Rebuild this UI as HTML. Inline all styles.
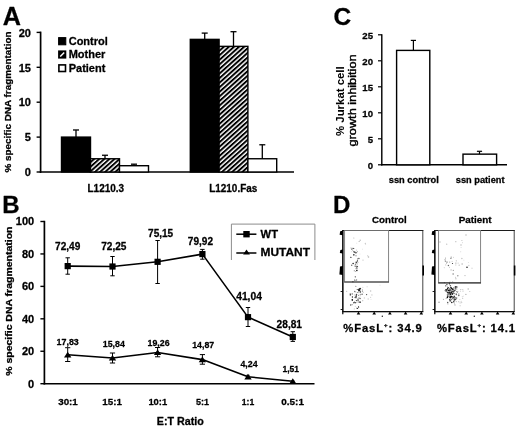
<!DOCTYPE html>
<html><head><meta charset="utf-8"><title>Figure</title>
<style>
html,body{margin:0;padding:0;background:#fff;}
svg{display:block;}
text{font-family:"Liberation Sans",Arial,Helvetica,sans-serif;font-weight:bold;fill:#000;stroke:#000;stroke-width:0.28px;stroke-linejoin:round;}
</style></head><body>
<svg width="520" height="428" viewBox="0 0 520 428">
<defs>
<pattern id="h" width="3.4" height="3.4" patternUnits="userSpaceOnUse" patternTransform="rotate(-42)">
<rect width="3.4" height="3.4" fill="#fff"/><rect width="3.4" height="1.95" fill="#000"/></pattern>
<filter id="soft" x="0" y="0" width="520" height="428" filterUnits="userSpaceOnUse"><feGaussianBlur stdDeviation="0.42"/></filter>
</defs>
<rect width="520" height="428" fill="#fff"/>
<g filter="url(#soft)">
<rect width="520" height="428" fill="#fff"/>
<text x="2.7" y="24.5" font-size="25.2">A</text>
<line x1="40.60" y1="31.60" x2="40.60" y2="172.80" stroke="#000" stroke-width="1.7"/>
<line x1="39.80" y1="172.00" x2="294.00" y2="172.00" stroke="#000" stroke-width="1.6"/>
<line x1="36.60" y1="172.00" x2="40.60" y2="172.00" stroke="#000" stroke-width="1.4"/>
<text x="30.9" y="176.2" font-size="11" text-anchor="end">0</text>
<line x1="36.60" y1="137.10" x2="40.60" y2="137.10" stroke="#000" stroke-width="1.4"/>
<text x="30.9" y="141.29999999999998" font-size="11" text-anchor="end">5</text>
<line x1="36.60" y1="102.20" x2="40.60" y2="102.20" stroke="#000" stroke-width="1.4"/>
<text x="30.9" y="106.39999999999999" font-size="11" text-anchor="end">10</text>
<line x1="36.60" y1="67.30" x2="40.60" y2="67.30" stroke="#000" stroke-width="1.4"/>
<text x="30.9" y="71.5" font-size="11" text-anchor="end">15</text>
<line x1="36.60" y1="32.40" x2="40.60" y2="32.40" stroke="#000" stroke-width="1.4"/>
<text x="30.9" y="36.59999999999998" font-size="11" text-anchor="end">20</text>
<text x="11.4" y="172.5" font-size="8.6" transform="rotate(-90 11.4 172.5)" textLength="141.0" lengthAdjust="spacingAndGlyphs">% specific DNA fragmentation</text>
<rect x="58.70" y="37.70" width="7.00" height="7.00" fill="#000" stroke="#000" stroke-width="1.2"/>
<rect x="58.90" y="51.20" width="6.60" height="6.60" fill="#000" stroke="#000" stroke-width="1.6"/>
<line x1="60.20" y1="56.50" x2="64.20" y2="52.50" stroke="#fff" stroke-width="1.5"/>
<rect x="58.90" y="64.90" width="6.60" height="6.60" fill="#fff" stroke="#000" stroke-width="1.6"/>
<text x="68.7" y="44.8" font-size="11">Control</text>
<text x="68.7" y="58.0" font-size="11">Mother</text>
<text x="68.7" y="71.6" font-size="11">Patient</text>
<line x1="76.00" y1="129.98" x2="76.00" y2="137.10" stroke="#000" stroke-width="1.3"/>
<line x1="73.00" y1="129.98" x2="79.00" y2="129.98" stroke="#000" stroke-width="1.3"/>
<rect x="61.50" y="137.10" width="29.00" height="34.90" fill="#000" stroke="#000" stroke-width="1.4"/>
<line x1="105.00" y1="155.25" x2="105.00" y2="158.74" stroke="#000" stroke-width="1.3"/>
<line x1="102.00" y1="155.25" x2="108.00" y2="155.25" stroke="#000" stroke-width="1.3"/>
<rect x="90.50" y="158.74" width="29.00" height="13.26" fill="url(#h)" stroke="#000" stroke-width="1.4"/>
<line x1="134.00" y1="164.18" x2="134.00" y2="165.72" stroke="#000" stroke-width="1.3"/>
<line x1="131.00" y1="164.18" x2="137.00" y2="164.18" stroke="#000" stroke-width="1.3"/>
<rect x="119.50" y="165.72" width="29.00" height="6.28" fill="#fff" stroke="#000" stroke-width="1.4"/>
<line x1="204.70" y1="33.10" x2="204.70" y2="39.38" stroke="#000" stroke-width="1.3"/>
<line x1="201.70" y1="33.10" x2="207.70" y2="33.10" stroke="#000" stroke-width="1.3"/>
<rect x="190.30" y="39.38" width="28.80" height="132.62" fill="#000" stroke="#000" stroke-width="1.4"/>
<line x1="233.50" y1="31.70" x2="233.50" y2="46.36" stroke="#000" stroke-width="1.3"/>
<line x1="230.50" y1="31.70" x2="236.50" y2="31.70" stroke="#000" stroke-width="1.3"/>
<rect x="219.10" y="46.36" width="28.80" height="125.64" fill="url(#h)" stroke="#000" stroke-width="1.4"/>
<line x1="262.30" y1="144.78" x2="262.30" y2="158.74" stroke="#000" stroke-width="1.3"/>
<line x1="259.30" y1="144.78" x2="265.30" y2="144.78" stroke="#000" stroke-width="1.3"/>
<rect x="247.90" y="158.74" width="28.80" height="13.26" fill="#fff" stroke="#000" stroke-width="1.4"/>
<text x="87.5" y="192.3" font-size="10.5" textLength="36.6" lengthAdjust="spacingAndGlyphs">L1210.3</text>
<text x="209.2" y="192.3" font-size="10.5" textLength="48.1" lengthAdjust="spacingAndGlyphs">L1210.Fas</text>
<text x="2.2" y="212.5" font-size="24">B</text>
<line x1="44.40" y1="220.80" x2="44.40" y2="384.50" stroke="#000" stroke-width="1.7"/>
<line x1="43.60" y1="383.70" x2="314.50" y2="383.70" stroke="#000" stroke-width="1.6"/>
<line x1="40.40" y1="383.70" x2="44.40" y2="383.70" stroke="#000" stroke-width="1.4"/>
<text x="34.2" y="387.59999999999997" font-size="11" text-anchor="end">0</text>
<line x1="40.40" y1="351.26" x2="44.40" y2="351.26" stroke="#000" stroke-width="1.4"/>
<text x="34.2" y="355.15999999999997" font-size="11" text-anchor="end">20</text>
<line x1="40.40" y1="318.82" x2="44.40" y2="318.82" stroke="#000" stroke-width="1.4"/>
<text x="34.2" y="322.71999999999997" font-size="11" text-anchor="end">40</text>
<line x1="40.40" y1="286.38" x2="44.40" y2="286.38" stroke="#000" stroke-width="1.4"/>
<text x="34.2" y="290.28" font-size="11" text-anchor="end">60</text>
<line x1="40.40" y1="253.94" x2="44.40" y2="253.94" stroke="#000" stroke-width="1.4"/>
<text x="34.2" y="257.84" font-size="11" text-anchor="end">80</text>
<line x1="40.40" y1="221.50" x2="44.40" y2="221.50" stroke="#000" stroke-width="1.4"/>
<text x="34.2" y="225.39999999999998" font-size="11" text-anchor="end">100</text>
<text x="12.3" y="375.8" font-size="9" transform="rotate(-90 12.3 375.8)" textLength="149.3" lengthAdjust="spacingAndGlyphs">% specific DNA fragmentation</text>
<line x1="67.70" y1="257.80" x2="67.70" y2="274.20" stroke="#000" stroke-width="1.0"/>
<line x1="65.50" y1="257.80" x2="69.90" y2="257.80" stroke="#000" stroke-width="1.0"/>
<line x1="65.50" y1="274.20" x2="69.90" y2="274.20" stroke="#000" stroke-width="1.0"/>
<line x1="112.50" y1="256.50" x2="112.50" y2="275.80" stroke="#000" stroke-width="1.0"/>
<line x1="110.30" y1="256.50" x2="114.70" y2="256.50" stroke="#000" stroke-width="1.0"/>
<line x1="110.30" y1="275.80" x2="114.70" y2="275.80" stroke="#000" stroke-width="1.0"/>
<line x1="157.60" y1="240.50" x2="157.60" y2="283.50" stroke="#000" stroke-width="1.0"/>
<line x1="155.40" y1="240.50" x2="159.80" y2="240.50" stroke="#000" stroke-width="1.0"/>
<line x1="155.40" y1="283.50" x2="159.80" y2="283.50" stroke="#000" stroke-width="1.0"/>
<line x1="202.40" y1="249.40" x2="202.40" y2="259.20" stroke="#000" stroke-width="1.0"/>
<line x1="200.20" y1="249.40" x2="204.60" y2="249.40" stroke="#000" stroke-width="1.0"/>
<line x1="200.20" y1="259.20" x2="204.60" y2="259.20" stroke="#000" stroke-width="1.0"/>
<line x1="248.00" y1="307.50" x2="248.00" y2="326.50" stroke="#000" stroke-width="1.0"/>
<line x1="245.80" y1="307.50" x2="250.20" y2="307.50" stroke="#000" stroke-width="1.0"/>
<line x1="245.80" y1="326.50" x2="250.20" y2="326.50" stroke="#000" stroke-width="1.0"/>
<line x1="292.80" y1="331.70" x2="292.80" y2="341.40" stroke="#000" stroke-width="1.0"/>
<line x1="290.60" y1="331.70" x2="295.00" y2="331.70" stroke="#000" stroke-width="1.0"/>
<line x1="290.60" y1="341.40" x2="295.00" y2="341.40" stroke="#000" stroke-width="1.0"/>
<line x1="67.70" y1="347.70" x2="67.70" y2="361.50" stroke="#000" stroke-width="1.0"/>
<line x1="65.10" y1="347.70" x2="70.30" y2="347.70" stroke="#000" stroke-width="1.0"/>
<line x1="65.10" y1="361.50" x2="70.30" y2="361.50" stroke="#000" stroke-width="1.0"/>
<line x1="112.50" y1="353.00" x2="112.50" y2="363.00" stroke="#000" stroke-width="1.0"/>
<line x1="109.90" y1="353.00" x2="115.10" y2="353.00" stroke="#000" stroke-width="1.0"/>
<line x1="109.90" y1="363.00" x2="115.10" y2="363.00" stroke="#000" stroke-width="1.0"/>
<line x1="157.60" y1="347.50" x2="157.60" y2="356.80" stroke="#000" stroke-width="1.0"/>
<line x1="155.00" y1="347.50" x2="160.20" y2="347.50" stroke="#000" stroke-width="1.0"/>
<line x1="155.00" y1="356.80" x2="160.20" y2="356.80" stroke="#000" stroke-width="1.0"/>
<line x1="202.40" y1="354.60" x2="202.40" y2="364.20" stroke="#000" stroke-width="1.0"/>
<line x1="199.80" y1="354.60" x2="205.00" y2="354.60" stroke="#000" stroke-width="1.0"/>
<line x1="199.80" y1="364.20" x2="205.00" y2="364.20" stroke="#000" stroke-width="1.0"/>
<line x1="248.00" y1="375.30" x2="248.00" y2="378.40" stroke="#000" stroke-width="1.0"/>
<line x1="246.40" y1="375.30" x2="249.60" y2="375.30" stroke="#000" stroke-width="1.0"/>
<line x1="246.40" y1="378.40" x2="249.60" y2="378.40" stroke="#000" stroke-width="1.0"/>
<line x1="292.80" y1="381.00" x2="292.80" y2="382.40" stroke="#000" stroke-width="1.0"/>
<line x1="291.20" y1="381.00" x2="294.40" y2="381.00" stroke="#000" stroke-width="1.0"/>
<line x1="291.20" y1="382.40" x2="294.40" y2="382.40" stroke="#000" stroke-width="1.0"/>
<polyline fill="none" stroke="#000" stroke-width="1.6" stroke-linejoin="round" points="67.7,266.1 112.5,266.5 157.6,261.8 202.4,254.1 248,317.1 292.8,337.0"/>
<polyline fill="none" stroke="#000" stroke-width="1.6" stroke-linejoin="round" points="67.7,354.8 112.5,358.0 157.6,352.5 202.4,359.6 248,376.8 292.8,381.3"/>
<rect x="64.60" y="263.02" width="6.20" height="6.20" fill="#000" stroke="none" stroke-width="0"/>
<rect x="109.40" y="263.41" width="6.20" height="6.20" fill="#000" stroke="none" stroke-width="0"/>
<rect x="154.50" y="258.71" width="6.20" height="6.20" fill="#000" stroke="none" stroke-width="0"/>
<rect x="199.30" y="250.97" width="6.20" height="6.20" fill="#000" stroke="none" stroke-width="0"/>
<rect x="244.90" y="314.03" width="6.20" height="6.20" fill="#000" stroke="none" stroke-width="0"/>
<rect x="289.70" y="333.87" width="6.20" height="6.20" fill="#000" stroke="none" stroke-width="0"/>
<polygon points="67.7,351.8 71.4,357.4 64.0,357.4" fill="#000"/>
<polygon points="112.5,355.0 116.2,360.6 108.8,360.6" fill="#000"/>
<polygon points="157.6,349.5 161.29999999999998,355.1 153.9,355.1" fill="#000"/>
<polygon points="202.4,356.6 206.1,362.2 198.70000000000002,362.2" fill="#000"/>
<polygon points="248,373.8 251.7,379.4 244.3,379.4" fill="#000"/>
<polygon points="292.8,378.3 296.5,383.9 289.1,383.9" fill="#000"/>
<text x="55.1" y="249.9" font-size="10.8" textLength="25.2" lengthAdjust="spacingAndGlyphs">72,49</text>
<text x="101.2" y="249.9" font-size="10.8" textLength="25.3" lengthAdjust="spacingAndGlyphs">72,25</text>
<text x="148.1" y="236.6" font-size="10.8" textLength="25.1" lengthAdjust="spacingAndGlyphs">75,15</text>
<text x="187.8" y="244.8" font-size="10.8" textLength="25.2" lengthAdjust="spacingAndGlyphs">79,92</text>
<text x="236.2" y="300.2" font-size="10.8" textLength="25.7" lengthAdjust="spacingAndGlyphs">41,04</text>
<text x="276.6" y="328.3" font-size="10.8" textLength="25.4" lengthAdjust="spacingAndGlyphs">28,81</text>
<text x="56.5" y="344.9" font-size="9.5" textLength="22.3" lengthAdjust="spacingAndGlyphs">17,83</text>
<text x="102.8" y="346.6" font-size="9.5" textLength="22.1" lengthAdjust="spacingAndGlyphs">15,84</text>
<text x="147.6" y="346.2" font-size="9.5" textLength="22.0" lengthAdjust="spacingAndGlyphs">19,26</text>
<text x="192.2" y="348" font-size="9.5" textLength="22.0" lengthAdjust="spacingAndGlyphs">14,87</text>
<text x="240.5" y="367.3" font-size="9.5" textLength="17.0" lengthAdjust="spacingAndGlyphs">4,24</text>
<text x="282.5" y="371.9" font-size="9.5" textLength="16.5" lengthAdjust="spacingAndGlyphs">1,51</text>
<text x="58.2" y="404.8" font-size="9.9" textLength="19.6" lengthAdjust="spacingAndGlyphs">30:1</text>
<text x="102.3" y="404.8" font-size="9.9" textLength="19.6" lengthAdjust="spacingAndGlyphs">15:1</text>
<text x="148.4" y="404.8" font-size="9.9" textLength="18.8" lengthAdjust="spacingAndGlyphs">10:1</text>
<text x="195.9" y="404.8" font-size="9.9" textLength="13.0" lengthAdjust="spacingAndGlyphs">5:1</text>
<text x="241.8" y="404.8" font-size="9.9" textLength="12.4" lengthAdjust="spacingAndGlyphs">1:1</text>
<text x="281.3" y="404.8" font-size="9.9" textLength="22.6" lengthAdjust="spacingAndGlyphs">0.5:1</text>
<text x="156.8" y="425" font-size="10.3" textLength="47.0" lengthAdjust="spacingAndGlyphs">E:T Ratio</text>
<path d="M231.4 260 V224.1 H314.9 V260" fill="none" stroke="#8c8c8c" stroke-width="1"/>
<line x1="236.30" y1="234.20" x2="256.40" y2="234.20" stroke="#000" stroke-width="1.5"/>
<rect x="243.30" y="231.00" width="6.40" height="6.40" fill="#000" stroke="none" stroke-width="0"/>
<line x1="236.30" y1="253.00" x2="256.40" y2="253.00" stroke="#000" stroke-width="1.5"/>
<polygon points="246.5,249.6 249.9,254.5 243.1,254.5" fill="#000"/>
<text x="260.6" y="238.2" font-size="11.2" textLength="17.4" lengthAdjust="spacingAndGlyphs">WT</text>
<text x="260.6" y="256.1" font-size="11.2" textLength="49.4" lengthAdjust="spacingAndGlyphs">MUTANT</text>
<text x="333.4" y="24.8" font-size="24.5">C</text>
<line x1="381.80" y1="34.20" x2="381.80" y2="165.50" stroke="#000" stroke-width="1.4"/>
<line x1="381.10" y1="164.80" x2="507.00" y2="164.80" stroke="#000" stroke-width="1.4"/>
<line x1="378.00" y1="164.80" x2="381.80" y2="164.80" stroke="#000" stroke-width="1.2"/>
<text x="373" y="168.60000000000002" font-size="9.6" text-anchor="end">0</text>
<line x1="378.00" y1="138.80" x2="381.80" y2="138.80" stroke="#000" stroke-width="1.2"/>
<text x="373" y="142.60000000000002" font-size="9.6" text-anchor="end">5</text>
<line x1="378.00" y1="112.80" x2="381.80" y2="112.80" stroke="#000" stroke-width="1.2"/>
<text x="373" y="116.60000000000001" font-size="9.6" text-anchor="end">10</text>
<line x1="378.00" y1="86.80" x2="381.80" y2="86.80" stroke="#000" stroke-width="1.2"/>
<text x="373" y="90.60000000000001" font-size="9.6" text-anchor="end">15</text>
<line x1="378.00" y1="60.80" x2="381.80" y2="60.80" stroke="#000" stroke-width="1.2"/>
<text x="373" y="64.60000000000001" font-size="9.6" text-anchor="end">20</text>
<line x1="378.00" y1="34.80" x2="381.80" y2="34.80" stroke="#000" stroke-width="1.2"/>
<text x="373" y="38.60000000000001" font-size="9.6" text-anchor="end">25</text>
<line x1="413.40" y1="40.40" x2="413.40" y2="50.40" stroke="#000" stroke-width="1.2"/>
<line x1="410.80" y1="40.40" x2="416.00" y2="40.40" stroke="#000" stroke-width="1.2"/>
<rect x="396.60" y="50.40" width="33.20" height="114.40" fill="#fff" stroke="#000" stroke-width="1.4"/>
<line x1="479.50" y1="151.30" x2="479.50" y2="154.14" stroke="#000" stroke-width="1.2"/>
<line x1="476.90" y1="151.30" x2="482.10" y2="151.30" stroke="#000" stroke-width="1.2"/>
<rect x="463.00" y="154.14" width="33.60" height="10.66" fill="#fff" stroke="#000" stroke-width="1.4"/>
<text x="388.8" y="183" font-size="9" textLength="50.0" lengthAdjust="spacingAndGlyphs">ssn control</text>
<text x="455.8" y="183" font-size="9" textLength="48.7" lengthAdjust="spacingAndGlyphs">ssn patient</text>
<text x="344" y="136" font-size="11" transform="rotate(-90 344 136)" textLength="69.7" lengthAdjust="spacingAndGlyphs" style="stroke-width:0.05px">% Jurkat cell</text>
<text x="355.9" y="146.5" font-size="11" transform="rotate(-90 355.9 146.5)" textLength="92.1" lengthAdjust="spacingAndGlyphs" style="font-weight:normal;stroke-width:0.4px">growth inhibition</text>
<text x="333" y="212.9" font-size="24">D</text>
<text x="372" y="223" font-size="9.7" textLength="34.6" lengthAdjust="spacingAndGlyphs">Control</text>
<text x="458.7" y="222.9" font-size="9.7" textLength="32.9" lengthAdjust="spacingAndGlyphs">Patient</text>
<rect x="342.80" y="230.50" width="80.00" height="81.10" fill="#fff" stroke="#444" stroke-width="1.0"/>
<line x1="342.80" y1="230.00" x2="342.80" y2="312.10" stroke="#111" stroke-width="1.4"/>
<line x1="342.30" y1="311.60" x2="423.30" y2="311.60" stroke="#111" stroke-width="1.3"/>
<line x1="342.30" y1="230.50" x2="423.30" y2="230.50" stroke="#1a1a1a" stroke-width="1.2"/>
<rect x="344.60" y="230.50" width="44.00" height="51.50" fill="none" stroke="#777" stroke-width="0.9"/>
<line x1="344.20" y1="282.00" x2="389.00" y2="282.00" stroke="#3a3a3a" stroke-width="1.2"/>
<circle cx="353.1" cy="263.4" r="0.75" fill="#000" opacity="0.91"/>
<circle cx="351.7" cy="265.3" r="0.75" fill="#000" opacity="0.57"/>
<circle cx="353.1" cy="248.4" r="0.65" fill="#000" opacity="0.52"/>
<circle cx="357.1" cy="268.7" r="0.45" fill="#000" opacity="0.90"/>
<circle cx="353.8" cy="254.9" r="0.55" fill="#000" opacity="0.69"/>
<circle cx="352.8" cy="248.1" r="0.45" fill="#000" opacity="0.51"/>
<circle cx="356.0" cy="266.2" r="0.75" fill="#000" opacity="0.49"/>
<circle cx="354.3" cy="270.7" r="0.55" fill="#000" opacity="0.57"/>
<circle cx="354.0" cy="251.8" r="0.75" fill="#000" opacity="0.79"/>
<circle cx="354.3" cy="252.4" r="0.45" fill="#000" opacity="0.74"/>
<circle cx="355.0" cy="252.4" r="0.65" fill="#000" opacity="0.58"/>
<circle cx="358.0" cy="262.2" r="0.45" fill="#000" opacity="0.53"/>
<circle cx="356.6" cy="252.7" r="0.45" fill="#000" opacity="0.93"/>
<circle cx="356.5" cy="280.1" r="0.75" fill="#000" opacity="0.50"/>
<circle cx="357.5" cy="258.9" r="0.55" fill="#000" opacity="0.51"/>
<circle cx="355.8" cy="253.0" r="0.65" fill="#000" opacity="0.52"/>
<circle cx="357.5" cy="260.9" r="0.55" fill="#000" opacity="0.91"/>
<circle cx="355.5" cy="264.2" r="0.75" fill="#000" opacity="0.50"/>
<circle cx="356.6" cy="270.4" r="0.55" fill="#000" opacity="0.69"/>
<circle cx="358.9" cy="258.6" r="0.75" fill="#000" opacity="0.67"/>
<circle cx="357.1" cy="266.3" r="0.65" fill="#000" opacity="0.58"/>
<circle cx="359.1" cy="241.6" r="0.45" fill="#000" opacity="0.76"/>
<circle cx="356.0" cy="268.7" r="0.45" fill="#000" opacity="0.88"/>
<circle cx="356.6" cy="261.3" r="0.45" fill="#000" opacity="0.68"/>
<circle cx="355.8" cy="252.0" r="0.45" fill="#000" opacity="0.62"/>
<circle cx="356.7" cy="262.8" r="0.45" fill="#000" opacity="0.78"/>
<circle cx="353.9" cy="254.8" r="0.75" fill="#000" opacity="0.69"/>
<circle cx="356.0" cy="255.8" r="0.55" fill="#000" opacity="0.66"/>
<circle cx="355.0" cy="266.0" r="0.55" fill="#000" opacity="0.76"/>
<circle cx="357.0" cy="270.6" r="0.75" fill="#000" opacity="0.74"/>
<circle cx="357.5" cy="251.7" r="0.45" fill="#000" opacity="0.68"/>
<circle cx="357.4" cy="266.8" r="0.75" fill="#000" opacity="0.60"/>
<circle cx="355.3" cy="276.8" r="0.65" fill="#000" opacity="0.76"/>
<circle cx="350.9" cy="257.4" r="0.55" fill="#000" opacity="0.94"/>
<circle cx="355.8" cy="271.4" r="0.45" fill="#000" opacity="0.88"/>
<circle cx="354.7" cy="279.7" r="0.45" fill="#000" opacity="0.57"/>
<circle cx="357.4" cy="263.9" r="0.45" fill="#000" opacity="0.59"/>
<circle cx="356.4" cy="267.7" r="0.55" fill="#000" opacity="0.75"/>
<circle cx="356.4" cy="262.7" r="0.65" fill="#000" opacity="0.69"/>
<circle cx="353.8" cy="248.5" r="0.55" fill="#000" opacity="0.75"/>
<circle cx="351.7" cy="249.1" r="0.65" fill="#000" opacity="0.70"/>
<circle cx="353.9" cy="238.0" r="0.45" fill="#000" opacity="0.49"/>
<circle cx="351.3" cy="251.8" r="0.45" fill="#000" opacity="0.20"/>
<circle cx="367.7" cy="255.7" r="0.55" fill="#000" opacity="0.26"/>
<circle cx="355.6" cy="262.2" r="0.75" fill="#000" opacity="0.29"/>
<circle cx="362.4" cy="249.1" r="0.45" fill="#000" opacity="0.22"/>
<circle cx="356.8" cy="243.1" r="0.45" fill="#000" opacity="0.24"/>
<circle cx="368.5" cy="256.9" r="0.75" fill="#000" opacity="0.30"/>
<circle cx="360.2" cy="240.2" r="0.75" fill="#000" opacity="0.26"/>
<circle cx="350.3" cy="257.0" r="0.45" fill="#000" opacity="0.16"/>
<circle cx="360.0" cy="254.0" r="0.45" fill="#000" opacity="0.15"/>
<circle cx="352.7" cy="250.2" r="0.65" fill="#000" opacity="0.29"/>
<circle cx="365.6" cy="244.2" r="0.55" fill="#000" opacity="0.17"/>
<circle cx="351.0" cy="248.1" r="0.75" fill="#000" opacity="0.20"/>
<circle cx="356.5" cy="250.1" r="0.65" fill="#000" opacity="0.21"/>
<circle cx="363.0" cy="260.1" r="0.55" fill="#000" opacity="0.27"/>
<circle cx="365.3" cy="243.3" r="0.65" fill="#000" opacity="0.24"/>
<circle cx="357.5" cy="300.6" r="0.45" fill="#000" opacity="0.64"/>
<circle cx="354.9" cy="280.4" r="0.55" fill="#000" opacity="0.61"/>
<circle cx="360.0" cy="302.1" r="0.75" fill="#000" opacity="0.91"/>
<circle cx="353.9" cy="302.7" r="0.75" fill="#000" opacity="0.79"/>
<circle cx="354.2" cy="308.9" r="0.45" fill="#000" opacity="0.61"/>
<circle cx="355.8" cy="291.9" r="0.45" fill="#000" opacity="0.64"/>
<circle cx="354.7" cy="291.5" r="0.65" fill="#000" opacity="0.57"/>
<circle cx="357.2" cy="300.8" r="0.45" fill="#000" opacity="0.50"/>
<circle cx="352.3" cy="300.3" r="0.65" fill="#000" opacity="0.79"/>
<circle cx="362.1" cy="294.3" r="0.75" fill="#000" opacity="0.57"/>
<circle cx="356.8" cy="308.1" r="0.45" fill="#000" opacity="0.83"/>
<circle cx="358.2" cy="302.0" r="0.55" fill="#000" opacity="0.64"/>
<circle cx="352.1" cy="304.7" r="0.45" fill="#000" opacity="0.91"/>
<circle cx="350.7" cy="304.9" r="0.75" fill="#000" opacity="0.66"/>
<circle cx="352.3" cy="299.8" r="0.75" fill="#000" opacity="0.91"/>
<circle cx="352.2" cy="293.9" r="0.65" fill="#000" opacity="0.71"/>
<circle cx="352.1" cy="299.3" r="0.45" fill="#000" opacity="0.57"/>
<circle cx="366.6" cy="294.6" r="0.65" fill="#000" opacity="0.73"/>
<circle cx="356.6" cy="308.1" r="0.45" fill="#000" opacity="0.48"/>
<circle cx="360.1" cy="298.5" r="0.65" fill="#000" opacity="0.68"/>
<circle cx="356.2" cy="297.1" r="0.45" fill="#000" opacity="0.86"/>
<circle cx="356.2" cy="297.8" r="0.55" fill="#000" opacity="0.73"/>
<circle cx="360.4" cy="292.1" r="0.75" fill="#000" opacity="0.80"/>
<circle cx="360.8" cy="294.3" r="0.45" fill="#000" opacity="0.93"/>
<circle cx="357.2" cy="289.5" r="0.55" fill="#000" opacity="0.74"/>
<circle cx="350.3" cy="295.1" r="0.65" fill="#000" opacity="0.74"/>
<circle cx="352.9" cy="281.7" r="0.55" fill="#000" opacity="0.89"/>
<circle cx="356.4" cy="300.6" r="0.65" fill="#000" opacity="0.73"/>
<circle cx="354.9" cy="294.9" r="0.45" fill="#000" opacity="0.73"/>
<circle cx="356.3" cy="296.0" r="0.75" fill="#000" opacity="0.94"/>
<circle cx="346.8" cy="291.2" r="0.45" fill="#000" opacity="0.53"/>
<circle cx="356.5" cy="294.6" r="0.75" fill="#000" opacity="0.73"/>
<circle cx="362.5" cy="291.0" r="0.55" fill="#000" opacity="0.67"/>
<circle cx="355.2" cy="297.6" r="0.75" fill="#000" opacity="0.68"/>
<circle cx="355.3" cy="296.5" r="0.45" fill="#000" opacity="0.67"/>
<circle cx="358.6" cy="295.3" r="0.45" fill="#000" opacity="0.85"/>
<circle cx="359.0" cy="297.9" r="0.65" fill="#000" opacity="0.48"/>
<circle cx="355.6" cy="302.9" r="0.45" fill="#000" opacity="0.77"/>
<circle cx="352.4" cy="297.0" r="0.65" fill="#000" opacity="0.88"/>
<circle cx="355.9" cy="286.3" r="0.45" fill="#000" opacity="0.89"/>
<circle cx="354.4" cy="302.1" r="0.55" fill="#000" opacity="0.73"/>
<circle cx="350.2" cy="293.7" r="0.55" fill="#000" opacity="0.73"/>
<circle cx="350.3" cy="294.5" r="0.55" fill="#000" opacity="0.77"/>
<circle cx="357.6" cy="308.4" r="0.55" fill="#000" opacity="0.86"/>
<circle cx="355.8" cy="302.6" r="0.55" fill="#000" opacity="0.91"/>
<circle cx="357.4" cy="292.5" r="0.55" fill="#000" opacity="0.52"/>
<circle cx="358.0" cy="299.2" r="0.75" fill="#000" opacity="0.66"/>
<circle cx="358.8" cy="290.6" r="0.55" fill="#000" opacity="0.85"/>
<circle cx="358.5" cy="306.4" r="0.45" fill="#000" opacity="0.85"/>
<circle cx="358.6" cy="307.1" r="0.65" fill="#000" opacity="0.91"/>
<circle cx="360.1" cy="302.5" r="0.55" fill="#000" opacity="0.84"/>
<circle cx="358.3" cy="289.4" r="0.75" fill="#000" opacity="0.49"/>
<circle cx="358.4" cy="300.6" r="0.55" fill="#000" opacity="0.57"/>
<circle cx="362.3" cy="289.4" r="0.45" fill="#000" opacity="0.55"/>
<circle cx="360.8" cy="291.0" r="0.45" fill="#000" opacity="0.54"/>
<circle cx="359.0" cy="290.8" r="0.75" fill="#000" opacity="0.76"/>
<circle cx="359.9" cy="290.7" r="0.45" fill="#000" opacity="0.82"/>
<circle cx="360.0" cy="289.0" r="0.65" fill="#000" opacity="0.73"/>
<circle cx="358.9" cy="290.0" r="0.45" fill="#000" opacity="0.58"/>
<circle cx="359.4" cy="290.1" r="0.75" fill="#000" opacity="0.92"/>
<circle cx="358.9" cy="289.3" r="0.65" fill="#000" opacity="0.79"/>
<circle cx="359.9" cy="288.7" r="0.55" fill="#000" opacity="0.96"/>
<circle cx="360.1" cy="288.5" r="0.65" fill="#000" opacity="0.95"/>
<circle cx="367.1" cy="286.8" r="0.55" fill="#000" opacity="0.21"/>
<circle cx="371.0" cy="299.4" r="0.45" fill="#000" opacity="0.22"/>
<circle cx="380.0" cy="285.1" r="0.45" fill="#000" opacity="0.29"/>
<circle cx="363.3" cy="292.3" r="0.55" fill="#000" opacity="0.25"/>
<circle cx="360.2" cy="295.8" r="0.55" fill="#000" opacity="0.30"/>
<circle cx="362.9" cy="287.3" r="0.45" fill="#000" opacity="0.30"/>
<circle cx="368.2" cy="298.9" r="0.75" fill="#000" opacity="0.19"/>
<circle cx="364.4" cy="298.1" r="0.75" fill="#000" opacity="0.18"/>
<circle cx="370.6" cy="297.3" r="0.65" fill="#000" opacity="0.19"/>
<circle cx="359.2" cy="294.8" r="0.45" fill="#000" opacity="0.30"/>
<circle cx="358.9" cy="288.7" r="0.45" fill="#000" opacity="0.16"/>
<circle cx="355.3" cy="306.3" r="0.55" fill="#000" opacity="0.21"/>
<circle cx="370.6" cy="291.1" r="0.75" fill="#000" opacity="0.24"/>
<circle cx="371.9" cy="294.9" r="0.65" fill="#000" opacity="0.23"/>
<circle cx="362.7" cy="300.7" r="0.65" fill="#000" opacity="0.25"/>
<circle cx="360.9" cy="288.5" r="0.55" fill="#000" opacity="0.15"/>
<circle cx="358.7" cy="292.6" r="0.75" fill="#000" opacity="0.21"/>
<polygon points="342.8,230.8 342.8,235.2 339.6,234.7 340.2,231.2" fill="#000"/>
<polygon points="342.8,249.5 342.8,253.5 339.8,252.9 340.4,249.9" fill="#000"/>
<polygon points="342.8,266.0 342.8,275.0 339.4,274.4 340.0,266.4" fill="#000"/>
<line x1="340.60" y1="291.50" x2="342.80" y2="291.50" stroke="#000" stroke-width="0.9"/>
<line x1="340.60" y1="309.50" x2="342.80" y2="309.50" stroke="#000" stroke-width="0.9"/>
<line x1="342.80" y1="311.60" x2="342.80" y2="314.20" stroke="#000" stroke-width="1.2"/>
<polygon points="358.5,311.6 360.3,314.4 356.7,314.4" fill="#000"/>
<polygon points="374.2,311.6 376.0,314.4 372.4,314.4" fill="#000"/>
<polygon points="389.9,311.6 391.7,314.4 388.1,314.4" fill="#000"/>
<polygon points="405.6,311.6 407.4,314.4 403.8,314.4" fill="#000"/>
<polygon points="421.3,311.6 423.1,314.4 419.5,314.4" fill="#000"/>
<circle cx="382.3" cy="316.2" r="0.7" fill="#000" opacity="0.90"/>
<rect x="422.40" y="265.50" width="1.60" height="10.00" fill="#000" stroke="none" stroke-width="0"/>
<rect x="434.80" y="230.50" width="79.40" height="81.10" fill="#fff" stroke="#444" stroke-width="1.0"/>
<line x1="434.80" y1="230.00" x2="434.80" y2="312.10" stroke="#111" stroke-width="1.4"/>
<line x1="434.30" y1="311.60" x2="514.70" y2="311.60" stroke="#111" stroke-width="1.3"/>
<line x1="434.30" y1="230.50" x2="514.70" y2="230.50" stroke="#1a1a1a" stroke-width="1.2"/>
<rect x="438.60" y="230.50" width="42.00" height="52.40" fill="none" stroke="#777" stroke-width="0.9"/>
<line x1="438.20" y1="282.90" x2="481.00" y2="282.90" stroke="#3a3a3a" stroke-width="1.2"/>
<circle cx="453.3" cy="270.3" r="0.65" fill="#000" opacity="0.42"/>
<circle cx="457.8" cy="275.7" r="0.75" fill="#000" opacity="0.43"/>
<circle cx="450.0" cy="281.4" r="0.45" fill="#000" opacity="0.31"/>
<circle cx="455.9" cy="263.1" r="0.55" fill="#000" opacity="0.44"/>
<circle cx="448.4" cy="265.6" r="0.75" fill="#000" opacity="0.49"/>
<circle cx="455.9" cy="278.7" r="0.55" fill="#000" opacity="0.41"/>
<circle cx="453.1" cy="274.1" r="0.75" fill="#000" opacity="0.50"/>
<circle cx="445.4" cy="261.2" r="0.65" fill="#000" opacity="0.50"/>
<circle cx="450.9" cy="258.3" r="0.65" fill="#000" opacity="0.60"/>
<circle cx="449.7" cy="262.1" r="0.65" fill="#000" opacity="0.33"/>
<circle cx="451.2" cy="257.1" r="0.65" fill="#000" opacity="0.41"/>
<circle cx="445.0" cy="259.8" r="0.55" fill="#000" opacity="0.51"/>
<circle cx="445.5" cy="258.1" r="0.55" fill="#000" opacity="0.36"/>
<circle cx="444.2" cy="267.8" r="0.45" fill="#000" opacity="0.36"/>
<circle cx="449.6" cy="267.2" r="0.45" fill="#000" opacity="0.38"/>
<circle cx="448.7" cy="265.4" r="0.45" fill="#000" opacity="0.46"/>
<circle cx="462.1" cy="264.1" r="0.75" fill="#000" opacity="0.30"/>
<circle cx="453.5" cy="257.2" r="0.55" fill="#000" opacity="0.20"/>
<circle cx="460.7" cy="251.7" r="0.55" fill="#000" opacity="0.17"/>
<circle cx="446.5" cy="263.4" r="0.55" fill="#000" opacity="0.21"/>
<circle cx="451.1" cy="269.9" r="0.65" fill="#000" opacity="0.30"/>
<circle cx="455.6" cy="277.2" r="0.55" fill="#000" opacity="0.27"/>
<circle cx="452.1" cy="261.5" r="0.65" fill="#000" opacity="0.16"/>
<circle cx="461.9" cy="258.6" r="0.75" fill="#000" opacity="0.23"/>
<circle cx="462.6" cy="242.7" r="0.45" fill="#000" opacity="0.27"/>
<circle cx="463.9" cy="260.1" r="0.45" fill="#000" opacity="0.25"/>
<circle cx="455.8" cy="241.7" r="0.65" fill="#000" opacity="0.26"/>
<circle cx="458.1" cy="263.1" r="0.65" fill="#000" opacity="0.20"/>
<circle cx="456.3" cy="260.8" r="0.65" fill="#000" opacity="0.26"/>
<circle cx="445.7" cy="264.9" r="0.65" fill="#000" opacity="0.20"/>
<circle cx="462.8" cy="289.5" r="0.55" fill="#000" opacity="0.26"/>
<circle cx="472.0" cy="268.3" r="0.75" fill="#000" opacity="0.15"/>
<circle cx="446.7" cy="244.2" r="0.65" fill="#000" opacity="0.26"/>
<circle cx="461.9" cy="240.5" r="0.55" fill="#000" opacity="0.28"/>
<circle cx="465.0" cy="275.6" r="0.65" fill="#000" opacity="0.28"/>
<circle cx="461.1" cy="247.5" r="0.55" fill="#000" opacity="0.16"/>
<circle cx="440.0" cy="242.1" r="0.75" fill="#000" opacity="0.25"/>
<circle cx="468.3" cy="262.4" r="0.45" fill="#000" opacity="0.27"/>
<circle cx="455.8" cy="265.0" r="0.65" fill="#000" opacity="0.17"/>
<circle cx="468.8" cy="265.4" r="0.75" fill="#000" opacity="0.17"/>
<circle cx="459.2" cy="265.2" r="0.65" fill="#000" opacity="0.26"/>
<circle cx="451.8" cy="289.0" r="0.65" fill="#000" opacity="0.64"/>
<circle cx="449.6" cy="288.9" r="0.45" fill="#000" opacity="0.73"/>
<circle cx="449.5" cy="283.9" r="0.65" fill="#000" opacity="0.67"/>
<circle cx="455.3" cy="287.0" r="0.75" fill="#000" opacity="0.87"/>
<circle cx="456.3" cy="291.8" r="0.45" fill="#000" opacity="0.72"/>
<circle cx="452.7" cy="289.0" r="0.55" fill="#000" opacity="0.67"/>
<circle cx="451.6" cy="296.2" r="0.55" fill="#000" opacity="0.78"/>
<circle cx="450.0" cy="297.5" r="0.65" fill="#000" opacity="0.73"/>
<circle cx="452.7" cy="293.2" r="0.45" fill="#000" opacity="0.62"/>
<circle cx="450.8" cy="296.0" r="0.45" fill="#000" opacity="0.91"/>
<circle cx="451.5" cy="292.7" r="0.45" fill="#000" opacity="0.70"/>
<circle cx="450.6" cy="296.3" r="0.55" fill="#000" opacity="0.65"/>
<circle cx="448.3" cy="290.5" r="0.75" fill="#000" opacity="0.72"/>
<circle cx="452.6" cy="296.9" r="0.65" fill="#000" opacity="0.56"/>
<circle cx="445.7" cy="285.8" r="0.65" fill="#000" opacity="0.74"/>
<circle cx="448.0" cy="293.9" r="0.45" fill="#000" opacity="0.93"/>
<circle cx="449.0" cy="293.8" r="0.55" fill="#000" opacity="0.50"/>
<circle cx="452.6" cy="289.3" r="0.65" fill="#000" opacity="0.73"/>
<circle cx="451.8" cy="292.0" r="0.45" fill="#000" opacity="0.91"/>
<circle cx="456.8" cy="286.6" r="0.55" fill="#000" opacity="0.69"/>
<circle cx="450.4" cy="287.5" r="0.55" fill="#000" opacity="0.55"/>
<circle cx="451.8" cy="291.0" r="0.55" fill="#000" opacity="0.91"/>
<circle cx="444.3" cy="282.7" r="0.45" fill="#000" opacity="0.60"/>
<circle cx="455.0" cy="299.8" r="0.55" fill="#000" opacity="0.48"/>
<circle cx="452.1" cy="291.8" r="0.45" fill="#000" opacity="0.60"/>
<circle cx="455.6" cy="289.1" r="0.65" fill="#000" opacity="0.51"/>
<circle cx="453.7" cy="293.8" r="0.45" fill="#000" opacity="0.57"/>
<circle cx="452.2" cy="288.7" r="0.75" fill="#000" opacity="0.49"/>
<circle cx="449.5" cy="293.1" r="0.65" fill="#000" opacity="0.87"/>
<circle cx="450.1" cy="297.7" r="0.75" fill="#000" opacity="0.74"/>
<circle cx="450.9" cy="292.0" r="0.55" fill="#000" opacity="0.51"/>
<circle cx="454.3" cy="296.3" r="0.45" fill="#000" opacity="0.69"/>
<circle cx="451.2" cy="292.9" r="0.75" fill="#000" opacity="0.65"/>
<circle cx="451.9" cy="299.3" r="0.45" fill="#000" opacity="0.69"/>
<circle cx="455.7" cy="286.7" r="0.55" fill="#000" opacity="0.82"/>
<circle cx="450.6" cy="297.7" r="0.65" fill="#000" opacity="0.73"/>
<circle cx="457.1" cy="291.4" r="0.45" fill="#000" opacity="0.74"/>
<circle cx="451.4" cy="296.5" r="0.65" fill="#000" opacity="0.82"/>
<circle cx="450.5" cy="296.8" r="0.65" fill="#000" opacity="0.70"/>
<circle cx="448.3" cy="294.9" r="0.45" fill="#000" opacity="0.52"/>
<circle cx="454.8" cy="298.2" r="0.55" fill="#000" opacity="0.56"/>
<circle cx="446.1" cy="298.4" r="0.45" fill="#000" opacity="0.76"/>
<circle cx="452.2" cy="294.2" r="0.75" fill="#000" opacity="0.94"/>
<circle cx="450.4" cy="294.5" r="0.75" fill="#000" opacity="0.91"/>
<circle cx="453.2" cy="292.4" r="0.55" fill="#000" opacity="0.57"/>
<circle cx="453.0" cy="289.5" r="0.75" fill="#000" opacity="0.63"/>
<circle cx="447.5" cy="288.4" r="0.65" fill="#000" opacity="0.77"/>
<circle cx="457.6" cy="292.6" r="0.45" fill="#000" opacity="0.79"/>
<circle cx="451.3" cy="296.4" r="0.75" fill="#000" opacity="0.62"/>
<circle cx="454.2" cy="296.2" r="0.65" fill="#000" opacity="0.72"/>
<circle cx="453.7" cy="288.0" r="0.65" fill="#000" opacity="0.55"/>
<circle cx="448.4" cy="292.2" r="0.55" fill="#000" opacity="0.71"/>
<circle cx="449.4" cy="292.2" r="0.55" fill="#000" opacity="0.92"/>
<circle cx="450.8" cy="293.1" r="0.45" fill="#000" opacity="0.79"/>
<circle cx="454.1" cy="297.4" r="0.65" fill="#000" opacity="0.67"/>
<circle cx="447.7" cy="302.6" r="0.75" fill="#000" opacity="0.65"/>
<circle cx="454.3" cy="290.2" r="0.55" fill="#000" opacity="0.82"/>
<circle cx="455.1" cy="290.3" r="0.65" fill="#000" opacity="0.74"/>
<circle cx="454.3" cy="300.0" r="0.65" fill="#000" opacity="0.90"/>
<circle cx="450.1" cy="292.1" r="0.65" fill="#000" opacity="0.87"/>
<circle cx="450.2" cy="289.6" r="0.65" fill="#000" opacity="0.84"/>
<circle cx="452.6" cy="291.0" r="0.45" fill="#000" opacity="0.74"/>
<circle cx="448.1" cy="294.8" r="0.55" fill="#000" opacity="0.85"/>
<circle cx="449.7" cy="299.8" r="0.75" fill="#000" opacity="0.83"/>
<circle cx="447.8" cy="289.2" r="0.55" fill="#000" opacity="0.84"/>
<circle cx="452.7" cy="298.3" r="0.75" fill="#000" opacity="0.54"/>
<circle cx="454.1" cy="296.6" r="0.55" fill="#000" opacity="0.63"/>
<circle cx="451.1" cy="299.3" r="0.45" fill="#000" opacity="0.63"/>
<circle cx="450.4" cy="285.7" r="0.75" fill="#000" opacity="0.67"/>
<circle cx="448.3" cy="290.5" r="0.75" fill="#000" opacity="0.67"/>
<circle cx="451.5" cy="288.3" r="0.75" fill="#000" opacity="0.95"/>
<circle cx="452.3" cy="291.5" r="0.65" fill="#000" opacity="0.53"/>
<circle cx="447.8" cy="292.8" r="0.65" fill="#000" opacity="0.90"/>
<circle cx="453.9" cy="291.4" r="0.75" fill="#000" opacity="0.77"/>
<circle cx="451.0" cy="287.5" r="0.65" fill="#000" opacity="0.83"/>
<circle cx="456.8" cy="287.3" r="0.75" fill="#000" opacity="0.59"/>
<circle cx="451.8" cy="302.6" r="0.75" fill="#000" opacity="0.94"/>
<circle cx="450.0" cy="288.3" r="0.65" fill="#000" opacity="0.59"/>
<circle cx="446.9" cy="284.6" r="0.65" fill="#000" opacity="0.89"/>
<circle cx="453.9" cy="290.0" r="0.55" fill="#000" opacity="0.86"/>
<circle cx="449.3" cy="289.7" r="0.45" fill="#000" opacity="0.53"/>
<circle cx="456.6" cy="298.1" r="0.75" fill="#000" opacity="0.53"/>
<circle cx="454.1" cy="293.5" r="0.65" fill="#000" opacity="0.62"/>
<circle cx="453.3" cy="297.8" r="0.75" fill="#000" opacity="0.69"/>
<circle cx="454.9" cy="298.9" r="0.65" fill="#000" opacity="0.58"/>
<circle cx="458.8" cy="295.4" r="0.75" fill="#000" opacity="0.62"/>
<circle cx="455.3" cy="299.6" r="0.55" fill="#000" opacity="0.84"/>
<circle cx="453.5" cy="302.0" r="0.45" fill="#000" opacity="0.80"/>
<circle cx="453.7" cy="301.6" r="0.75" fill="#000" opacity="0.64"/>
<circle cx="456.4" cy="294.1" r="0.55" fill="#000" opacity="0.81"/>
<circle cx="449.0" cy="292.8" r="0.45" fill="#000" opacity="0.93"/>
<circle cx="449.7" cy="290.4" r="0.65" fill="#000" opacity="0.86"/>
<circle cx="455.3" cy="288.3" r="0.75" fill="#000" opacity="0.54"/>
<circle cx="449.7" cy="294.9" r="0.45" fill="#000" opacity="0.88"/>
<circle cx="450.9" cy="290.6" r="0.55" fill="#000" opacity="0.56"/>
<circle cx="448.6" cy="293.5" r="0.45" fill="#000" opacity="0.60"/>
<circle cx="449.4" cy="291.8" r="0.55" fill="#000" opacity="0.62"/>
<circle cx="450.1" cy="290.4" r="0.45" fill="#000" opacity="0.78"/>
<circle cx="450.1" cy="293.9" r="0.45" fill="#000" opacity="0.91"/>
<circle cx="450.5" cy="293.2" r="0.65" fill="#000" opacity="0.76"/>
<circle cx="447.9" cy="292.4" r="0.55" fill="#000" opacity="0.75"/>
<circle cx="450.2" cy="300.9" r="0.65" fill="#000" opacity="0.59"/>
<circle cx="451.4" cy="292.4" r="0.55" fill="#000" opacity="0.85"/>
<circle cx="452.4" cy="293.4" r="0.75" fill="#000" opacity="0.69"/>
<circle cx="458.9" cy="293.7" r="0.45" fill="#000" opacity="0.50"/>
<circle cx="446.1" cy="291.3" r="0.75" fill="#000" opacity="0.68"/>
<circle cx="447.7" cy="288.9" r="0.55" fill="#000" opacity="0.75"/>
<circle cx="446.1" cy="289.7" r="0.75" fill="#000" opacity="0.56"/>
<circle cx="447.6" cy="296.8" r="0.55" fill="#000" opacity="0.89"/>
<circle cx="447.4" cy="297.4" r="0.75" fill="#000" opacity="0.93"/>
<circle cx="447.5" cy="295.3" r="0.45" fill="#000" opacity="0.99"/>
<circle cx="445.7" cy="289.9" r="0.55" fill="#000" opacity="0.59"/>
<circle cx="446.4" cy="290.0" r="0.75" fill="#000" opacity="0.90"/>
<circle cx="447.2" cy="286.2" r="0.45" fill="#000" opacity="0.52"/>
<circle cx="448.6" cy="290.5" r="0.55" fill="#000" opacity="0.77"/>
<circle cx="447.3" cy="292.2" r="0.65" fill="#000" opacity="0.71"/>
<circle cx="448.2" cy="287.8" r="0.75" fill="#000" opacity="0.89"/>
<circle cx="449.1" cy="296.4" r="0.65" fill="#000" opacity="0.59"/>
<circle cx="447.5" cy="297.1" r="0.75" fill="#000" opacity="0.83"/>
<circle cx="462.7" cy="298.3" r="0.55" fill="#000" opacity="0.31"/>
<circle cx="452.7" cy="281.6" r="0.55" fill="#000" opacity="0.25"/>
<circle cx="461.1" cy="301.2" r="0.45" fill="#000" opacity="0.39"/>
<circle cx="463.2" cy="296.1" r="0.45" fill="#000" opacity="0.34"/>
<circle cx="453.1" cy="299.1" r="0.45" fill="#000" opacity="0.32"/>
<circle cx="465.9" cy="294.4" r="0.55" fill="#000" opacity="0.39"/>
<circle cx="456.1" cy="298.9" r="0.75" fill="#000" opacity="0.42"/>
<circle cx="443.5" cy="299.3" r="0.65" fill="#000" opacity="0.31"/>
<circle cx="469.8" cy="291.5" r="0.55" fill="#000" opacity="0.27"/>
<circle cx="449.9" cy="301.0" r="0.65" fill="#000" opacity="0.24"/>
<circle cx="444.9" cy="290.6" r="0.55" fill="#000" opacity="0.42"/>
<circle cx="451.2" cy="297.4" r="0.75" fill="#000" opacity="0.41"/>
<circle cx="455.6" cy="297.3" r="0.55" fill="#000" opacity="0.32"/>
<circle cx="460.1" cy="302.9" r="0.55" fill="#000" opacity="0.26"/>
<circle cx="450.5" cy="300.7" r="0.75" fill="#000" opacity="0.40"/>
<circle cx="439.0" cy="302.2" r="0.75" fill="#000" opacity="0.38"/>
<circle cx="458.7" cy="301.7" r="0.65" fill="#000" opacity="0.24"/>
<circle cx="453.9" cy="299.6" r="0.55" fill="#000" opacity="0.23"/>
<circle cx="456.6" cy="288.8" r="0.55" fill="#000" opacity="0.35"/>
<circle cx="456.3" cy="301.6" r="0.65" fill="#000" opacity="0.26"/>
<circle cx="459.9" cy="299.4" r="0.45" fill="#000" opacity="0.41"/>
<circle cx="462.2" cy="296.7" r="0.45" fill="#000" opacity="0.31"/>
<circle cx="460.6" cy="291.3" r="0.45" fill="#000" opacity="0.28"/>
<circle cx="454.4" cy="303.8" r="0.55" fill="#000" opacity="0.33"/>
<circle cx="461.7" cy="302.6" r="0.65" fill="#000" opacity="0.23"/>
<circle cx="451.2" cy="299.6" r="0.65" fill="#000" opacity="0.38"/>
<circle cx="454.4" cy="302.1" r="0.55" fill="#000" opacity="0.31"/>
<circle cx="460.8" cy="289.6" r="0.55" fill="#000" opacity="0.33"/>
<circle cx="447.9" cy="303.9" r="0.65" fill="#000" opacity="0.28"/>
<circle cx="451.3" cy="302.0" r="0.45" fill="#000" opacity="0.26"/>
<circle cx="456.9" cy="289.1" r="0.65" fill="#000" opacity="0.23"/>
<circle cx="455.8" cy="294.1" r="0.65" fill="#000" opacity="0.42"/>
<circle cx="449.5" cy="283.1" r="0.55" fill="#000" opacity="0.42"/>
<circle cx="458.0" cy="291.4" r="0.45" fill="#000" opacity="0.40"/>
<circle cx="455.4" cy="297.3" r="0.65" fill="#000" opacity="0.31"/>
<circle cx="455.0" cy="305.1" r="0.75" fill="#000" opacity="0.27"/>
<circle cx="460.1" cy="305.8" r="0.55" fill="#000" opacity="0.30"/>
<circle cx="447.2" cy="294.7" r="0.55" fill="#000" opacity="0.43"/>
<circle cx="452.4" cy="296.6" r="0.65" fill="#000" opacity="0.42"/>
<circle cx="456.6" cy="294.8" r="0.65" fill="#000" opacity="0.31"/>
<circle cx="468.2" cy="288.9" r="0.75" fill="#000" opacity="0.29"/>
<circle cx="449.0" cy="296.2" r="0.65" fill="#000" opacity="0.33"/>
<circle cx="458.8" cy="294.5" r="0.65" fill="#000" opacity="0.23"/>
<circle cx="463.0" cy="291.1" r="0.55" fill="#000" opacity="0.28"/>
<circle cx="453.3" cy="291.4" r="0.65" fill="#000" opacity="0.30"/>
<polygon points="434.8,230.8 434.8,235.2 431.6,234.7 432.2,231.2" fill="#000"/>
<polygon points="434.8,249.5 434.8,253.5 431.8,252.9 432.4,249.9" fill="#000"/>
<polygon points="434.8,266.0 434.8,275.0 431.4,274.4 432.0,266.4" fill="#000"/>
<line x1="432.60" y1="291.50" x2="434.80" y2="291.50" stroke="#000" stroke-width="0.9"/>
<line x1="432.60" y1="309.50" x2="434.80" y2="309.50" stroke="#000" stroke-width="0.9"/>
<line x1="434.80" y1="311.60" x2="434.80" y2="314.20" stroke="#000" stroke-width="1.2"/>
<polygon points="450.5,311.6 452.3,314.4 448.7,314.4" fill="#000"/>
<polygon points="466.2,311.6 468.0,314.4 464.4,314.4" fill="#000"/>
<polygon points="481.9,311.6 483.7,314.4 480.1,314.4" fill="#000"/>
<polygon points="497.6,311.6 499.4,314.4 495.8,314.4" fill="#000"/>
<polygon points="513.3,311.6 515.1,314.4 511.5,314.4" fill="#000"/>
<circle cx="474.3" cy="316.2" r="0.7" fill="#000" opacity="0.90"/>
<rect x="513.80" y="265.50" width="1.60" height="10.00" fill="#000" stroke="none" stroke-width="0"/>
<circle cx="467.0" cy="267.2" r="0.8" fill="#000" opacity="0.90"/>
<circle cx="447.0" cy="262.0" r="0.6" fill="#000" opacity="0.80"/>
<circle cx="452.5" cy="263.5" r="0.6" fill="#000" opacity="0.80"/>
<circle cx="466.0" cy="235.0" r="0.7" fill="#000" opacity="0.30"/>
<circle cx="461.0" cy="245.0" r="0.7" fill="#000" opacity="0.30"/>
<text x="343.2" y="331.9" font-size="11.3" textLength="78.7" lengthAdjust="spacing">%FasL<tspan font-size="6" dy="-4.6">+</tspan><tspan dy="4.6">: 34.9</tspan></text>
<text x="436.9" y="331.9" font-size="11.3" textLength="78.2" lengthAdjust="spacing">%FasL<tspan font-size="6" dy="-4.6">+</tspan><tspan dy="4.6">: 14.1</tspan></text>
</g>
</svg>
</body></html>
